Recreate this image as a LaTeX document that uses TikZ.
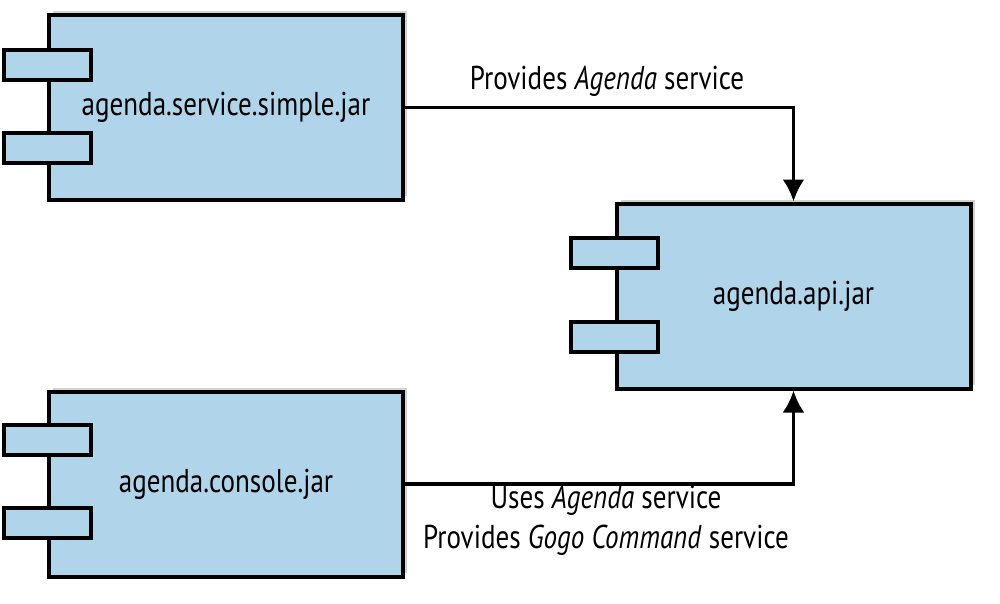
\documentclass[tikz,border=0pt]{standalone}
\usepackage{fontspec}
\setmainfont[FakeStretch=0.82]{PT Sans}
\usetikzlibrary{arrows.meta,shadows}
\definecolor{jarblue}{RGB}{176,212,234}
\tikzset{
    jarbox/.style={draw, line width=4, fill=jarblue, minimum width=354, minimum height=185,
        inner sep=0pt, font=\fontsize{33}{38}\selectfont,
        drop shadow={opacity=0.35, shadow xshift=4, shadow yshift=-4}},
    jartab/.style={draw, line width=4, fill=jarblue, minimum width=87, minimum height=30, inner sep=0pt},
    usage/.style={font=\fontsize{33}{40}\selectfont, align=center}
}
\begin{document}
\begin{tikzpicture}[x=1pt, y=-1pt, >={Latex[length=22, width=22]}, line width=3.5]
    \useasboundingbox (0,0) rectangle (1000,604);
    % components
    \draw (226,107.5)node[jarbox, name=svc]{agenda.service.simple.jar};
    \draw (47.5,65)node[jartab, name=svcA]{};
    \draw (47.5,148.5)node[jartab, name=svcB]{};
    \draw (793.5,296)node[jarbox, name=api]{agenda.api.jar};
    \draw (614,252.5)node[jartab, name=apiA]{};
    \draw (614,336.5)node[jartab, name=apiB]{};
    \draw (226,484)node[jarbox, name=con]{agenda.console.jar};
    \draw (47.5,440)node[jartab, name=conA]{};
    \draw (47.5,523)node[jartab, name=conB]{};
    % dependencies
    \draw[->] (svc.east) -| (api.north);
    \draw[->] (con.east) -| (api.south);
    \draw (607,81)node[usage, name=provLbl]{Provides \textit{Agenda} service};
    \draw (606,520)node[usage, name=useLbl]{Uses \textit{Agenda} service\\Provides \textit{Gogo Command} service};
\end{tikzpicture}
\end{document}
